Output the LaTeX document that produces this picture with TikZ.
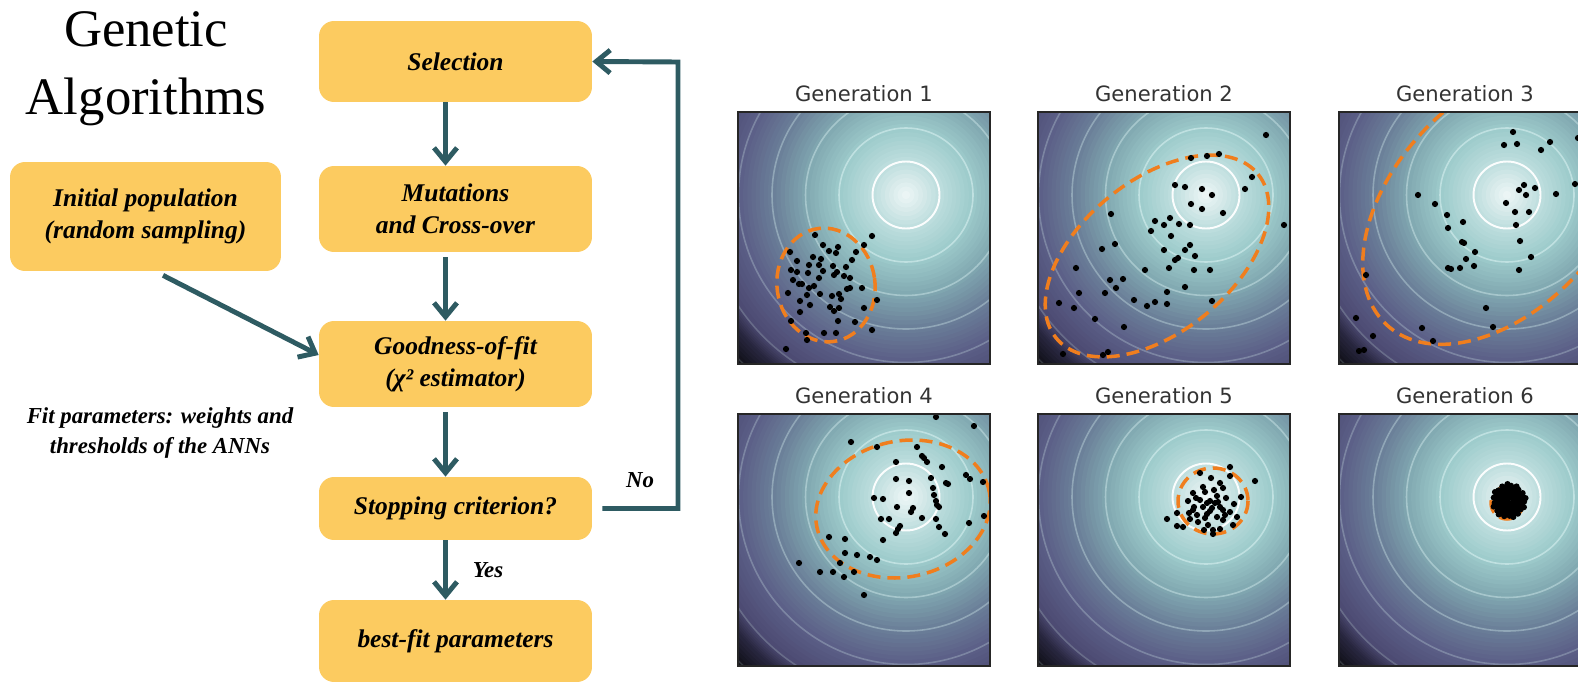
\documentclass[tikz,border=0pt]{standalone}
\usepackage{fontspec}
\setmainfont{Liberation Serif}
\newfontfamily\plotfont{DejaVu Sans}
\usepackage{tikz}
\usetikzlibrary{arrows.meta}

\definecolor{boxyellow}{RGB}{252,203,96}
\definecolor{flowteal}{RGB}{46,91,98}
\definecolor{fitorange}{RGB}{240,126,30}
\definecolor{ringcyan}{RGB}{215,240,240}
\definecolor{cmA}{HTML}{F1F8F8}
\definecolor{cmB}{HTML}{C0DFDF}
\definecolor{cmC}{HTML}{9ECCCC}
\definecolor{cmD}{HTML}{82AAB2}
\definecolor{cmE}{HTML}{6B8099}
\definecolor{cmF}{HTML}{5C6088}
\definecolor{cmG}{HTML}{4D4B73}
\definecolor{cmH}{HTML}{2A2842}
\definecolor{cmI}{HTML}{0C0C12}

\tikzset{
	stepbox/.style={rectangle, rounded corners=0.3cm, fill=boxyellow, minimum width=5.46cm, align=center, inner sep=0pt, font=\fontsize{14.5}{18}\selectfont\bfseries\itshape},
	flow/.style={draw=flowteal, line width=2.8pt, -{Straight Barb[length=0.28cm,width=0.46cm]}},
	fitline/.style={draw=fitorange, line width=2pt, dash pattern=on 0.26cm off 0.14cm},
	ring/.style={draw=ringcyan, line width=0.9pt},
	frame/.style={draw=black!85, line width=0.6pt},
	gentitle/.style={anchor=base, font=\plotfont\fontsize{12}{14}\selectfont, text=black!80},
	note/.style={font=\fontsize{13}{17}\selectfont\bfseries\itshape, align=center}
}

\newcommand{\fitbg}{%
	\foreach \cfrom/\cto/\rfrom/\rto in {cmI/cmI/240/252,cmH/cmI/215/240,cmG/cmH/200/215,cmF/cmG/167/200,cmE/cmF/134/167,cmD/cmE/100/134,cmC/cmD/67/100,cmB/cmC/34/67,cmA/cmB/0/34}{
		\foreach \j in {0,...,7}{
			\pgfmathsetmacro\rr{\rto-(\rto-\rfrom)*\j/8}
			\pgfmathtruncatemacro\pp{100-100*\j/8}
			\fill[fill=\cto!\pp!\cfrom] (168,83) circle (\rr);
		}
	}
	\foreach \k/\op in {2/0.6,3/0.45,4/0.36,5/0.28,6/0.22,7/0.17}
		\draw[ring, opacity=\op] (168,83) circle ({33.5*\k});
	\draw[ring, draw=white, line width=1.1pt, opacity=0.95] (168,83) circle (33.5);
}

\begin{document}
\begin{tikzpicture}[x=0.02cm, y=-0.02cm]
		\path[use as bounding box] (0,0) rectangle (1578,682);
		\clip (0,0) rectangle (1578,682);

		\node[anchor=base, font=\fontsize{30}{34}\selectfont] (gtitle) at (146,47) {Genetic};
		\node[anchor=base, font=\fontsize{30}{34}\selectfont] (atitle) at (146,115) {Algorithms};

		\node[stepbox, minimum height=1.62cm] (sel) at (455.5,61.5) {Selection};
		\node[stepbox, minimum height=1.72cm] (mut) at (455.5,209) {Mutations\\and Cross-over};
		\node[stepbox, minimum height=1.72cm] (gof) at (455.5,364) {Goodness-of-fit\\(χ² estimator)};
		\node[stepbox, minimum height=1.26cm] (stop) at (455.5,508.5) {Stopping criterion?};
		\node[stepbox, minimum height=1.64cm] (best) at (455.5,641) {best-fit parameters};
		\node[stepbox, minimum width=5.42cm, minimum height=2.18cm] (init) at (145.5,216.5) {Initial population\\(random sampling)};

		\node[note] (fitnote) at (160,433) {Fit parameters: weights and\\thresholds of the ANNs};
		\node[note] (nolabel) at (640,480) {No};
		\node[note] (yeslabel) at (488,570) {Yes};

		\draw[flow] ([xshift=-0.2cm]sel.south) -- ([xshift=-0.2cm]mut.north);
		\draw[flow] ([xshift=-0.2cm,yshift=-0.1cm]mut.south) -- ([xshift=-0.2cm]gof.north);
		\draw[flow] ([xshift=-0.2cm,yshift=-0.1cm]gof.south) -- ([xshift=-0.2cm]stop.north);
		\draw[flow] ([xshift=-0.2cm]stop.south) -- ([xshift=-0.2cm]best.north);
		\draw[flow] ([xshift=0.35cm,yshift=-0.08cm]init.south) -- ([yshift=0.18cm]gof.west);
		\coordinate (loop) at (678,62);
		\draw[flow] ([xshift=0.2cm]stop.east) -| (loop) -- (sel.east);

		\begin{scope}[shift={(738,112)}]
			\begin{scope}
				\clip (0,0) rectangle (252,252);
				\fitbg
				\draw[fitline, rotate around={8:(88,173)}] (88,173) ellipse (49 and 57);
				\foreach \p in {(134,124),(77,123),(126,133),(85,133),(100,135),(91,139),(98,141),(118,140),(52,140),(75,145),(83,147),(114,148),(59,149),(71,153),(81,153),(95,154),(108,155),(53,158),(59,160),(70,161),(85,159),(99,160),(96,163),(106,164),(112,166),(81,166),(55,168),(61,172),(64,172),(76,174),(71,176),(109,177),(112,176),(124,176),(50,181),(69,183),(82,182),(94,184),(101,182),(103,187),(62,189),(72,193),(139,188),(92,195),(96,199),(101,196),(126,196),(62,200),(100,209),(53,209),(117,210),(134,218),(68,221),(86,221),(98,221),(69,228),(48,237)}
					\fill \p circle (3.1);
			\end{scope}
			\draw[frame] (0,0) rectangle (252,252);
		\end{scope}
		\node[gentitle] (gen1) at (864,102) {Generation 1};

		\begin{scope}[shift={(1038,112)}]
			\begin{scope}
				\clip (0,0) rectangle (252,252);
				\fitbg
				\draw[fitline, rotate around={39:(119,144)}] (119,144) ellipse (130 and 76);
				\foreach \p in {(228,23),(153,46),(169,44),(181,42),(214,65),(207,77),(137,73),(147,75),(164,77),(174,83),(153,92),(164,97),(185,101),(246,113),(73,102),(117,109),(126,113),(132,106),(141,112),(152,113),(113,119),(133,124),(77,132),(64,137),(126,138),(147,138),(152,133),(157,144),(137,148),(140,146),(38,156),(107,158),(131,156),(156,158),(172,158),(72,168),(85,167),(78,176),(147,175),(41,181),(67,181),(129,180),(21,191),(36,196),(96,188),(109,194),(117,190),(129,192),(174,189),(57,207),(86,215),(25,242),(65,243),(70,240)}
					\fill \p circle (3.1);
			\end{scope}
			\draw[frame] (0,0) rectangle (252,252);
		\end{scope}
		\node[gentitle] (gen2) at (1164,102) {Generation 2};

		\begin{scope}[shift={(1339,112)}]
			\begin{scope}
				\clip (0,0) rectangle (252,252);
				\fitbg
				\draw[fitline, rotate around={47:(160,92)}] (160,92) ellipse (165 and 105);
				\foreach \p in {(174,20),(165,33),(178,32),(211,30),(202,38),(239,26),(185,73),(180,78),(196,76),(187,83),(236,72),(217,82),(79,83),(96,92),(167,91),(176,100),(190,100),(108,103),(124,110),(109,116),(177,113),(123,130),(125,131),(181,129),(136,140),(127,147),(192,145),(135,154),(109,156),(112,157),(121,156),(180,158),(27,163),(147,196),(17,206),(83,216),(154,215),(34,224),(94,229),(20,239),(25,238)}
					\fill \p circle (3.1);
			\end{scope}
			\draw[frame] (0,0) rectangle (252,252);
		\end{scope}
		\node[gentitle] (gen3) at (1465,102) {Generation 3};

		\begin{scope}[shift={(738,414)}]
			\begin{scope}
				\clip (0,0) rectangle (252,252);
				\fitbg
				\draw[fitline, rotate around={12:(165,95)}] (165,95) ellipse (88 and 68);
				\foreach \p in {(198,3),(236,12),(113,28),(139,33),(179,33),(184,42),(186,44),(189,48),(158,48),(204,53),(228,61),(232,65),(245,68),(158,65),(171,67),(193,64),(208,69),(210,70),(195,74),(171,79),(136,84),(145,85),(196,81),(198,87),(199,91),(201,93),(159,93),(175,94),(173,98),(246,102),(143,105),(151,105),(184,104),(198,105),(231,109),(162,112),(160,115),(158,119),(201,113),(207,120),(91,123),(107,125),(145,126),(107,139),(119,141),(132,143),(139,146),(61,149),(102,149),(82,158),(95,158),(116,158),(106,163),(126,181)}
					\fill \p circle (3.1);
			\end{scope}
			\draw[frame] (0,0) rectangle (252,252);
		\end{scope}
		\node[gentitle] (gen4) at (864,403) {Generation 4};

		\begin{scope}[shift={(1038,414)}]
			\begin{scope}
				\clip (0,0) rectangle (252,252);
				\fitbg
				\draw[fitline] (175,87) ellipse (35 and 33);
				\foreach \p in {(192,53),(162,59),(173,64),(192,62),(217,67),(182,69),(165,73),(185,74),(155,79),(167,78),(179,82),(203,83),(150,87),(162,86),(172,87),(177,89),(182,93),(156,93),(165,93),(174,94),(185,96),(192,98),(139,99),(151,99),(159,101),(169,100),(179,103),(129,105),(167,104),(185,106),(199,103),(139,112),(145,113),(170,111),(175,116),(182,115),(195,111),(175,120),(155,96),(180,88),(169,89),(160,108),(172,97),(188,84),(176,76),(158,84),(187,101),(166,116),(152,105),(196,90)}
					\fill \p circle (3.1);
			\end{scope}
			\draw[frame] (0,0) rectangle (252,252);
		\end{scope}
		\node[gentitle] (gen5) at (1164,403) {Generation 5};

		\begin{scope}[shift={(1339,414)}]
			\begin{scope}
				\clip (0,0) rectangle (252,252);
				\fitbg
				\draw[fitline] (168,89) circle (16);
				\foreach \i in {1,...,70}{
					\pgfmathsetmacro\rr{17*sqrt(\i/70)}
					\fill ({170+\rr*cos(137.5*\i)},{87+\rr*sin(137.5*\i)}) circle (3.1);
				}
			\end{scope}
			\draw[frame] (0,0) rectangle (252,252);
		\end{scope}
		\node[gentitle] (gen6) at (1465,403) {Generation 6};
\end{tikzpicture}
\end{document}
